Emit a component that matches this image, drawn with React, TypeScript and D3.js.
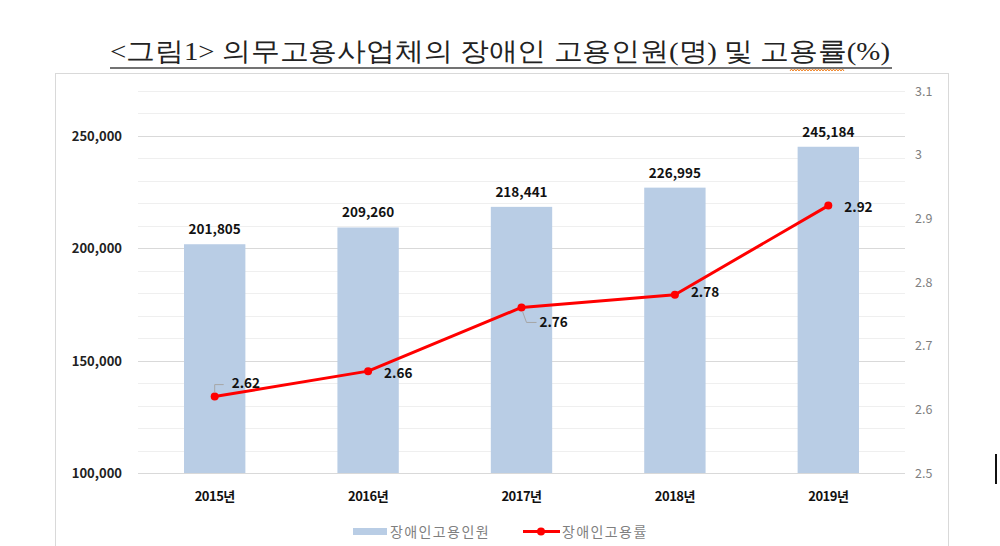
import React, { useEffect, useRef } from 'react';
import * as d3 from 'd3';

const years = ['2015년', '2016년', '2017년', '2018년', '2019년'];
const employees = [201805, 209260, 218441, 226995, 245184];
const rates = [2.62, 2.66, 2.76, 2.78, 2.92];
const leftTicks = [100000, 150000, 200000, 250000];
const rightTicks = [2.5, 2.6, 2.7, 2.8, 2.9, 3, 3.1];

const App = () => {
  const ref = useRef<SVGSVGElement>(null);

  useEffect(() => {
    const svg = d3.select(ref.current);
    svg.selectAll('*').remove();
    const W = 1000, H = 546;
    const top = 91, bottom = 473, left = 138, right = 905;
    const font = '"Noto Sans CJK KR", "Noto Sans", sans-serif';

    svg.append('rect').attr('width', W).attr('height', H).attr('fill', '#fff');

    // 제목
    svg.append('text')
      .attr('x', 110).attr('y', 60)
      .attr('textLength', 780).attr('lengthAdjust', 'spacingAndGlyphs')
      .attr('font-family', '"Liberation Serif", serif')
      .attr('font-size', 26).attr('fill', '#222')
      .text('<그림1> 의무고용사업체의 장애인 고용인원(명) 및 고용률(%)');
    svg.append('line').attr('x1', 110).attr('x2', 892).attr('y1', 68).attr('y2', 68)
      .attr('stroke', '#444').attr('stroke-width', 1.5);
    // 맞춤법 물결선
    let zz = 'M 790 71';
    for (let x = 790; x < 842; x += 3) zz += ` L ${x + 1.5} ${x % 6 === 0 ? 73 : 69} L ${x + 3} 71`;
    svg.append('path').attr('d', zz).attr('fill', 'none').attr('stroke', '#f08020').attr('stroke-width', 1);

    // 차트 테두리
    svg.append('rect').attr('x', 55.5).attr('y', 73.5).attr('width', 893).attr('height', 480)
      .attr('fill', '#fff').attr('stroke', '#d9d9d9');

    const x = d3.scaleBand().domain(years).range([left, right]).paddingInner(0.6).paddingOuter(0.3);
    const yL = d3.scaleLinear().domain([100000, 270000]).range([bottom, top]);
    const yR = d3.scaleLinear().domain([2.5, 3.1]).range([bottom, top]);

    // 격자선
    const grid = d3.range(100000, 270001, 10000);
    svg.append('g').selectAll('line').data(grid).join('line')
      .attr('x1', left).attr('x2', right)
      .attr('y1', d => Math.round(yL(d)) + 0.5).attr('y2', d => Math.round(yL(d)) + 0.5)
      .attr('stroke', d => (d % 50000 === 0 ? '#d9d9d9' : '#efefef'))
      .attr('stroke-width', 1.2);

    // 왼쪽 축
    svg.append('g').selectAll('text').data(leftTicks).join('text')
      .attr('x', 122).attr('y', d => yL(d) + 5)
      .attr('text-anchor', 'end').attr('font-family', font).attr('font-weight', 'bold')
      .attr('font-size', 13).attr('fill', '#222')
      .text(d => d3.format(',')(d));

    // 오른쪽 축
    svg.append('g').selectAll('text').data(rightTicks).join('text')
      .attr('x', 915).attr('y', d => yR(d) + 4.5)
      .attr('font-family', font).attr('font-size', 12.5).attr('fill', '#7f7f7f')
      .text(d => String(d));

    // 막대
    const bw = x.bandwidth();
    svg.append('g').selectAll('rect').data(employees).join('rect')
      .attr('x', (d, i) => x(years[i])!)
      .attr('y', d => yL(d))
      .attr('width', bw)
      .attr('height', d => bottom - yL(d))
      .attr('fill', '#b9cde5');

    svg.append('g').selectAll('text').data(employees).join('text')
      .attr('x', (d, i) => x(years[i])! + bw / 2)
      .attr('y', d => yL(d) - 10)
      .attr('text-anchor', 'middle').attr('font-family', font).attr('font-weight', 'bold')
      .attr('font-size', 13.5).attr('fill', '#111')
      .text(d => d3.format(',')(d));

    // x축 라벨
    svg.append('g').selectAll('text').data(years).join('text')
      .attr('x', d => x(d)! + bw / 2).attr('y', 501)
      .attr('text-anchor', 'middle').attr('font-family', font).attr('font-weight', 'bold')
      .attr('font-size', 13).attr('fill', '#111').attr('letter-spacing', -0.5)
      .text(d => d);

    // 선
    const cx = (i: number) => x(years[i])! + bw / 2;
    const line = d3.line<number>().x((d, i) => cx(i)).y(d => yR(d));
    svg.append('path').datum(rates).attr('d', line)
      .attr('fill', 'none').attr('stroke', '#ff0000').attr('stroke-width', 3)
      .attr('stroke-linejoin', 'round');
    svg.append('g').selectAll('circle').data(rates).join('circle')
      .attr('cx', (d, i) => cx(i)).attr('cy', d => yR(d)).attr('r', 4)
      .attr('fill', '#ff0000');

    // 선 라벨 위치 (점 기준 오프셋)
    const off = [[17, -9], [16, 7], [18, 20], [16, 2], [16, 6]];
    svg.append('g').selectAll('text').data(rates).join('text')
      .attr('x', (d, i) => cx(i) + off[i][0])
      .attr('y', (d, i) => yR(d) + off[i][1])
      .attr('font-family', font).attr('font-weight', 'bold')
      .attr('font-size', 13.5).attr('fill', '#111')
      .text(d => d.toFixed(2));

    // 지시선
    const p0x = cx(0), p0y = yR(rates[0]);
    svg.append('path').attr('d', `M ${p0x} ${p0y - 4} L ${p0x} ${p0y - 12} L ${p0x + 9} ${p0y - 12}`)
      .attr('fill', 'none').attr('stroke', '#a6a6a6').attr('stroke-width', 1);
    const p2x = cx(2), p2y = yR(rates[2]);
    svg.append('path').attr('d', `M ${p2x + 1} ${p2y + 4} L ${p2x + 5} ${p2y + 15} L ${p2x + 15} ${p2y + 15}`)
      .attr('fill', 'none').attr('stroke', '#a6a6a6').attr('stroke-width', 1);

    // 범례
    svg.append('rect').attr('x', 353).attr('y', 528).attr('width', 34).attr('height', 7).attr('fill', '#b9cde5');
    svg.append('text').attr('x', 390).attr('y', 537)
      .attr('font-family', font).attr('font-size', 14).attr('letter-spacing', 1.4)
      .attr('fill', '#7f7f7f').text('장애인고용인원');
    svg.append('line').attr('x1', 523).attr('x2', 560).attr('y1', 531.5).attr('y2', 531.5)
      .attr('stroke', '#ff0000').attr('stroke-width', 3);
    svg.append('circle').attr('cx', 541).attr('cy', 531.5).attr('r', 4).attr('fill', '#ff0000');
    svg.append('text').attr('x', 562).attr('y', 537)
      .attr('font-family', font).attr('font-size', 14).attr('letter-spacing', 1.4)
      .attr('fill', '#7f7f7f').text('장애인고용률');

    // 커서
    svg.append('rect').attr('x', 995).attr('y', 454).attr('width', 2).attr('height', 30).attr('fill', '#111');
  }, []);

  return (
    <svg ref={ref} width={1000} height={546}
      style={{ position: 'absolute', left: 0, top: 0, display: 'block' }} />
  );
};

export default App;
